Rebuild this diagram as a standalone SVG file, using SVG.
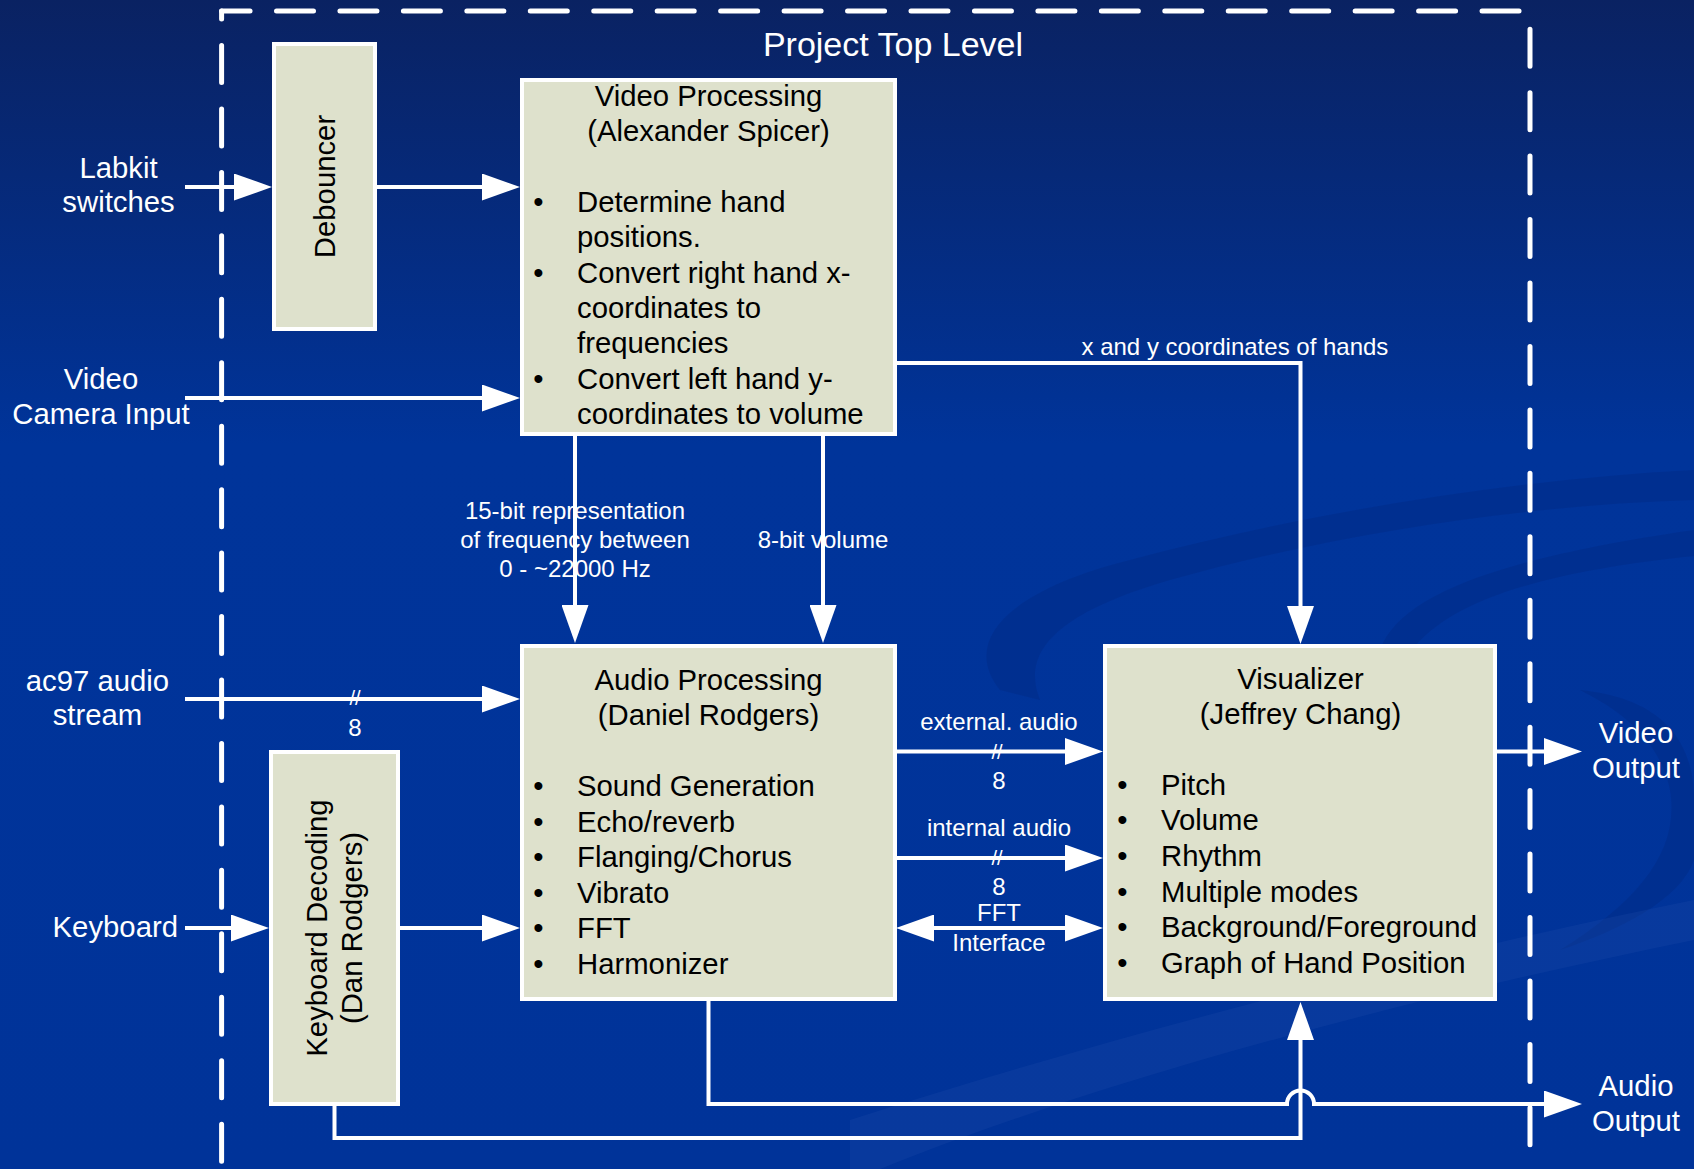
<svg xmlns="http://www.w3.org/2000/svg" width="1694" height="1169" viewBox="0 0 1694 1169">
<defs>
<linearGradient id="bg" x1="0" y1="0" x2="0" y2="1">
<stop offset="0" stop-color="#0a2262"/>
<stop offset="0.38" stop-color="#00349a"/>
<stop offset="1" stop-color="#003399"/>
</linearGradient>
<marker id="ah" markerUnits="userSpaceOnUse" markerWidth="38" markerHeight="27" viewBox="0 0 38 27" refX="28" refY="13.5" orient="auto-start-reverse">
<path d="M0,0 L38,13.5 L0,27 Z" fill="#ffffff"/>
</marker>
<style>
.box{fill:#dee1cc;stroke:#ffffff;stroke-width:4}
.conn{fill:none;stroke:#ffffff;stroke-width:4}
.arr{marker-end:url(#ah)}
.both{marker-start:url(#ah);marker-end:url(#ah)}
.t{font-family:"Liberation Sans",Arial,sans-serif;font-size:29.3px;fill:#000000}
.w{fill:#ffffff}
.s{font-size:24px}
.m{text-anchor:middle}
.e{text-anchor:end}
.dash{fill:none;stroke:#ffffff;stroke-width:5;stroke-linecap:round;stroke-dasharray:37 26.45}
.sw{fill:#00297e;opacity:0.35}
.sl{fill:#2a56b0;opacity:0.2}
</style>
</defs>
<rect x="0" y="0" width="1694" height="1169" fill="url(#bg)"/>
<g id="swooshes">
<path class="sw" d="M1000,690 C960,640 1010,590 1130,560 C1300,515 1500,480 1694,470 L1694,500 C1520,505 1330,535 1170,580 C1060,612 1020,650 1040,700 Z"/>
<path class="sw" d="M1380,650 C1400,595 1500,558 1694,530 L1694,556 C1540,572 1440,602 1405,660 Z"/>
<path class="sw" d="M1580,690 C1680,700 1694,760 1694,800 L1694,860 C1680,900 1620,930 1560,950 C1640,900 1680,850 1670,790 C1660,740 1620,710 1580,690 Z"/>
<path class="sl" d="M850,1120 C1100,1040 1400,960 1694,900 L1694,940 C1400,1000 1100,1080 880,1169 L850,1169 Z"/>
</g>
<g id="frame">
<path class="dash" d="M221.6,11 H1526" stroke-dashoffset="8.55"/>
<path class="dash" d="M221.6,11 V1169" stroke-dashoffset="28.95"/>
<path class="dash" d="M1530,29.2 V1169"/>
<text class="t w m" x="893" y="56" style="font-size:34px">Project Top Level</text>
</g>
<g id="connectors">
<path class="conn arr" d="M185,187 H262"/>
<path class="conn arr" d="M376,187 H510"/>
<path class="conn arr" d="M185,398 H510"/>
<path class="conn arr" d="M185,699 H510"/>
<path class="conn arr" d="M185,928 H259"/>
<path class="conn arr" d="M399,928 H510"/>
<path class="conn arr" d="M575,434 V633"/>
<path class="conn arr" d="M823,434 V633"/>
<path class="conn arr" d="M895,363 H1300.5 V634"/>
<path class="conn arr" d="M895,751.5 H1093"/>
<path class="conn arr" d="M895,858 H1093"/>
<path class="conn both" d="M906,928 H1093"/>
<path class="conn arr" d="M1497,751.5 H1572"/>
<path class="conn arr" d="M708.5,1001 V1104 H1287 A13.5,13.5 0 0 1 1314,1104 H1572"/>
<path class="conn arr" d="M334.5,1106 V1138 H1300.5 V1012"/>
<text class="t w s" x="1081.5" y="355">x and y coordinates of hands</text>
<text class="t w s m" x="575" y="518.5">15-bit representation</text>
<text class="t w s m" x="575" y="547.5">of frequency between</text>
<text class="t w s m" x="575" y="576.5">0 - ~22000 Hz</text>
<text class="t w s m" x="823" y="547.5">8-bit volume</text>
<text class="t w m" x="355" y="705" style="font-size:20px">//</text>
<text class="t w s m" x="355" y="736">8</text>
<text class="t w s m" x="999" y="729.5">external. audio</text>
<text class="t w m" x="997" y="759" style="font-size:20px">//</text>
<text class="t w s m" x="999" y="789">8</text>
<text class="t w s m" x="999" y="835.5">internal audio</text>
<text class="t w m" x="997" y="865" style="font-size:20px">//</text>
<text class="t w s m" x="999" y="895">8</text>
<text class="t w s m" x="999" y="920.5">FFT</text>
<text class="t w s m" x="999" y="950.5">Interface</text>
</g>
<g id="labkit">
<text class="t w m" x="118.5" y="178">Labkit</text>
<text class="t w m" x="118.5" y="212">switches</text>
</g>
<g id="video-camera">
<text class="t w m" x="101" y="389">Video</text>
<text class="t w m" x="101" y="424">Camera Input</text>
</g>
<g id="ac97">
<text class="t w m" x="97.5" y="691">ac97 audio</text>
<text class="t w m" x="97.5" y="724.5">stream</text>
</g>
<g id="keyboard">
<text class="t w e" x="178" y="936.5">Keyboard</text>
</g>
<g id="video-output">
<text class="t w m" x="1636" y="743">Video</text>
<text class="t w m" x="1636" y="778">Output</text>
</g>
<g id="audio-output">
<text class="t w m" x="1636" y="1095.5">Audio</text>
<text class="t w m" x="1636" y="1130.5">Output</text>
</g>
<g id="debouncer">
<rect class="box" x="274" y="44" width="101" height="285"/>
<text class="t m" transform="translate(335,186.5) rotate(-90)">Debouncer</text>
</g>
<g id="keyboard-decoding">
<rect class="box" x="271" y="752" width="127" height="352"/>
<text class="t m" transform="translate(327,928) rotate(-90)">Keyboard Decoding</text>
<text class="t m" transform="translate(362,928) rotate(-90)">(Dan Rodgers)</text>
</g>
<g id="video-processing">
<rect class="box" x="522" y="80" width="373" height="354"/>
<text class="t m" x="708.5" y="106">Video Processing</text>
<text class="t m" x="708.5" y="141">(Alexander Spicer)</text>
<text class="t m" x="538.5" y="212">•</text>
<text class="t" x="577" y="212">Determine hand</text>
<text class="t" x="577" y="247">positions.</text>
<text class="t m" x="538.5" y="282.5">•</text>
<text class="t" x="577" y="282.5">Convert right hand x-</text>
<text class="t" x="577" y="318">coordinates to</text>
<text class="t" x="577" y="353">frequencies</text>
<text class="t m" x="538.5" y="388.5">•</text>
<text class="t" x="577" y="388.5">Convert left hand y-</text>
<text class="t" x="577" y="424">coordinates to volume</text>
</g>
<g id="audio-processing">
<rect class="box" x="522" y="646" width="373" height="353"/>
<text class="t m" x="708.5" y="690">Audio Processing</text>
<text class="t m" x="708.5" y="725">(Daniel Rodgers)</text>
<text class="t m" x="538.5" y="796">•</text>
<text class="t" x="577" y="796">Sound Generation</text>
<text class="t m" x="538.5" y="831.5">•</text>
<text class="t" x="577" y="831.5">Echo/reverb</text>
<text class="t m" x="538.5" y="867">•</text>
<text class="t" x="577" y="867">Flanging/Chorus</text>
<text class="t m" x="538.5" y="902.5">•</text>
<text class="t" x="577" y="902.5">Vibrato</text>
<text class="t m" x="538.5" y="938">•</text>
<text class="t" x="577" y="938">FFT</text>
<text class="t m" x="538.5" y="973.5">•</text>
<text class="t" x="577" y="973.5">Harmonizer</text>
</g>
<g id="visualizer">
<rect class="box" x="1105" y="646" width="390" height="353"/>
<text class="t m" x="1300.5" y="688.5">Visualizer</text>
<text class="t m" x="1300.5" y="724">(Jeffrey Chang)</text>
<text class="t m" x="1122.5" y="794.5">•</text>
<text class="t" x="1161" y="794.5">Pitch</text>
<text class="t m" x="1122.5" y="830">•</text>
<text class="t" x="1161" y="830">Volume</text>
<text class="t m" x="1122.5" y="866">•</text>
<text class="t" x="1161" y="866">Rhythm</text>
<text class="t m" x="1122.5" y="901.5">•</text>
<text class="t" x="1161" y="901.5">Multiple modes</text>
<text class="t m" x="1122.5" y="937">•</text>
<text class="t" x="1161" y="937">Background/Foreground</text>
<text class="t m" x="1122.5" y="972.5">•</text>
<text class="t" x="1161" y="972.5">Graph of Hand Position</text>
</g>
</svg>
